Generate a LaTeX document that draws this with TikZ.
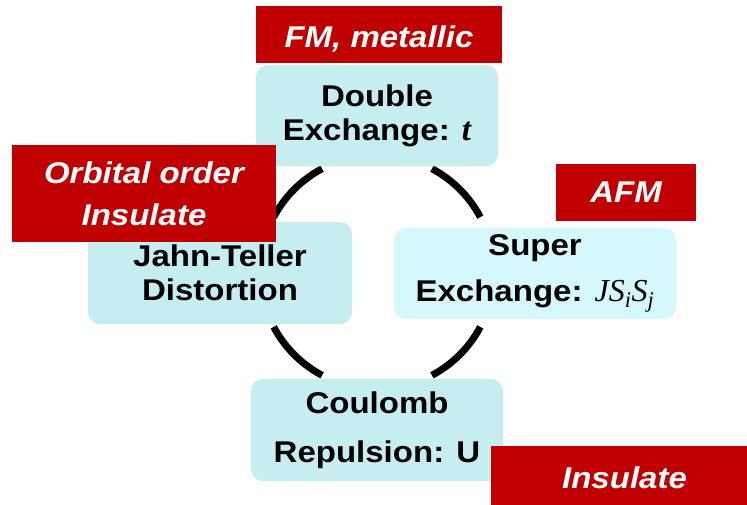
\documentclass[tikz,border=0pt]{standalone}
\usepackage{fontspec}
\setmainfont{Liberation Sans}[FakeStretch=1.1]
\newfontfamily\seriffont{Liberation Serif}
\definecolor{boxred}{HTML}{C00000}
\definecolor{boxcyan}{HTML}{C6EDF0}
\definecolor{boxcyanlight}{HTML}{D4F8FB}
\begin{document}
\begin{tikzpicture}[x=1pt,y=-1pt,
  cbox/.style={fill=boxcyan, rounded corners=12pt, inner sep=0pt, align=center,
    font=\fontsize{30}{34}\selectfont\bfseries, text=black},
  rbox/.style={fill=boxred, inner sep=0pt, align=center,
    font=\fontsize{30}{42}\selectfont\bfseries\itshape, text=white},
  link/.style={line width=7pt, black}]
\useasboundingbox (0,0) rectangle (747,504);
\fill[white] (0,0) rectangle (747,504);
% ring connectors
\coordinate (ring) at (377,272);
\draw[link] ([shift={(-62:117)}]ring) arc[start angle=-62, end angle=-28, radius=117];
\draw[link] ([shift={(-118:117)}]ring) arc[start angle=-118, end angle=-152, radius=117];
\draw[link] ([shift={(152:117)}]ring) arc[start angle=152, end angle=118, radius=117];
\draw[link] ([shift={(28:117)}]ring) arc[start angle=28, end angle=62, radius=117];
% mechanism boxes
\node[cbox, minimum width=242pt, minimum height=101pt] (de) at (377,115.5)
  {Double\\Exchange: {\seriffont\bfseries\itshape\fontsize{33}{34}\selectfont t}};
\node[cbox, minimum width=264pt, minimum height=102pt] (jt) at (220,273)
  {Jahn-Teller\\Distortion};
\node[cbox, fill=boxcyanlight, minimum width=282pt, minimum height=91pt] (se) at (535,273.5)
  {Super\\[12pt]Exchange: {\seriffont\mdseries\itshape\fontsize{32}{34}\selectfont JS\textsubscript{i}S\textsubscript{j}}};
\node[cbox, minimum width=252pt, minimum height=102pt] (cr) at (377,430)
  {Coulomb\\[15pt]Repulsion: U};
% phase labels
\node[rbox, minimum width=246pt, minimum height=57pt] (fm) at (379,34.5) {\raisebox{-4pt}[\height][\depth]{FM, metallic}};
\node[rbox, minimum width=264pt, minimum height=97pt] (oo) at (144,193.5) {Orbital order\\Insulate};
\node[rbox, minimum width=140pt, minimum height=57pt] (afm) at (626,192.5) {AFM};
\node[rbox, minimum width=267pt, minimum height=63pt] (ins) at (624.5,477.5) {Insulate};
\end{tikzpicture}
\end{document}
